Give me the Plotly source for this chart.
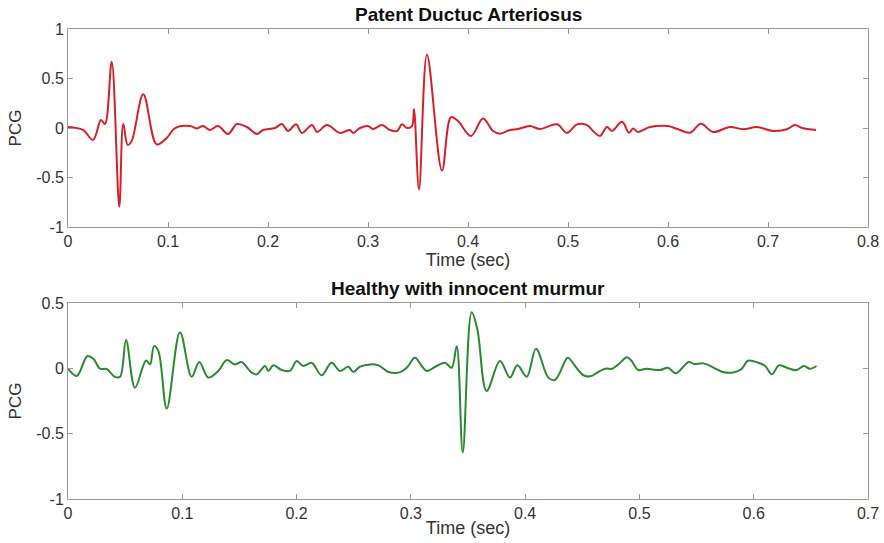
import plotly.graph_objects as go

# ---- Data ----
pda_t = [0.0, 0.015, 0.025, 0.033, 0.037, 0.0437, 0.0513, 0.0553, 0.0597, 0.0637, 0.0753, 0.0887,
         0.0987, 0.107, 0.122, 0.129, 0.135, 0.142, 0.150, 0.160, 0.169, 0.179, 0.189, 0.195, 0.207,
         0.214, 0.220, 0.228, 0.234, 0.244, 0.249, 0.259, 0.272, 0.282, 0.285, 0.292, 0.300, 0.305,
         0.314, 0.322, 0.329, 0.334, 0.339, 0.344, 0.346, 0.351, 0.359, 0.374, 0.383, 0.390, 0.403,
         0.415, 0.425, 0.432, 0.442, 0.450, 0.462, 0.472, 0.489, 0.499, 0.509, 0.519, 0.525, 0.532,
         0.539, 0.544, 0.554, 0.561, 0.565, 0.570, 0.582, 0.600, 0.610, 0.622, 0.633, 0.645, 0.662,
         0.675, 0.689, 0.705, 0.719, 0.727, 0.734, 0.748]
pda_v = [0.01, -0.02, -0.12, 0.08, 0.04, 0.67, -0.795, 0.04, -0.17, -0.13, 0.34, -0.165,
         -0.10, 0.0, 0.02, -0.004, 0.02, -0.02, 0.02, -0.06, 0.04, 0.01, -0.06, -0.02, 0.0,
         0.04, -0.03, 0.037, -0.05, 0.03, -0.04, 0.03, -0.05, -0.02, -0.05, 0.0, 0.02, -0.01,
         0.03, -0.02, -0.03, 0.037, 0.0, 0.02, 0.19, -0.62, 0.74, -0.43, 0.11, 0.07, -0.08,
         0.097, -0.03, -0.057, -0.02, -0.01, 0.02, -0.01, 0.037, -0.05, 0.037, 0.03, -0.03, -0.08,
         0.01, -0.03, 0.063, -0.047, -0.006, -0.04, 0.01, 0.02, -0.013, -0.047, 0.043, -0.04, 0.01,
         -0.013, 0.01, -0.03, -0.013, 0.03, 0.0, -0.02]

hm_t = [0.0, 0.0076, 0.017, 0.0222, 0.028, 0.0338, 0.0411, 0.0455, 0.0508, 0.0586, 0.0683, 0.0718,
        0.0753, 0.0791, 0.0864, 0.098, 0.1082, 0.1149, 0.1228, 0.1315, 0.1388, 0.1461, 0.1519,
        0.1607, 0.1651, 0.1724, 0.1753, 0.1797, 0.187, 0.1942, 0.2001, 0.2059, 0.2132, 0.2219,
        0.2306, 0.238, 0.2453, 0.2497, 0.2555, 0.2643, 0.2716, 0.2804, 0.2891, 0.2964, 0.3036,
        0.3095, 0.3139, 0.3226, 0.3299, 0.3357, 0.3401, 0.3454, 0.3532, 0.3582, 0.3663, 0.378,
        0.3867, 0.3932, 0.4014, 0.4095, 0.4203, 0.4261, 0.4363, 0.4378, 0.451, 0.458, 0.462,
        0.470, 0.476, 0.482, 0.489, 0.493, 0.499, 0.506, 0.518, 0.525, 0.532, 0.543, 0.548,
        0.556, 0.568, 0.573, 0.581, 0.589, 0.595, 0.604, 0.610, 0.616, 0.622, 0.629, 0.637,
        0.644, 0.649, 0.655]
hm_v = [0.0, -0.059, 0.094, 0.074, -0.003, -0.005, -0.065, -0.065, 0.216, -0.148, 0.06, 0.031,
        0.17, 0.132, -0.308, 0.277, -0.065, 0.049, -0.071, -0.02, 0.063, 0.03, 0.048,
        -0.033, -0.046, 0.018, -0.02, 0.023, -0.013, -0.02, 0.056, 0.018, 0.043, -0.053,
        0.043, -0.02, 0.013, -0.028, 0.013, 0.03, 0.023, -0.028, -0.033, 0.005, 0.081,
        0.018, -0.02, 0.018, 0.043, 0.005, 0.17, -0.644, 0.43, 0.298, -0.173, 0.056,
        -0.071, 0.023, -0.064, 0.15, -0.071, -0.089, 0.075, 0.08, -0.053, -0.059, -0.038,
        -0.003, -0.003, 0.033, 0.084, 0.058, -0.013, -0.003, -0.013, 0.005, -0.038, 0.048, 0.033,
        0.038, -0.008, -0.028, -0.033, -0.008, 0.058, 0.043, 0.018, -0.046, 0.023, 0.005, -0.015,
        0.018, -0.003, 0.018]

top_xticks = [0, 0.1, 0.2, 0.3, 0.4, 0.5, 0.6, 0.7, 0.8]
top_xlabels = ["0", "0.1", "0.2", "0.3", "0.4", "0.5", "0.6", "0.7", "0.8"]
top_yticks = [-1, -0.5, 0, 0.5, 1]
top_ylabels = ["-1", "-0.5", "0", "0.5", "1"]
bot_xticks = [0, 0.1, 0.2, 0.3, 0.4, 0.5, 0.6, 0.7]
bot_xlabels = ["0", "0.1", "0.2", "0.3", "0.4", "0.5", "0.6", "0.7"]
bot_yticks = [-1, -0.5, 0, 0.5]
bot_ylabels = ["-1", "-0.5", "0", "0.5"]

FONT = "Liberation Sans, Arial, Helvetica, sans-serif"

fig = go.Figure()
fig.add_trace(go.Scatter(x=pda_t, y=pda_v, mode="lines",
                         line=dict(color="#d3222a", width=2, shape="spline", smoothing=1.0),
                         xaxis="x", yaxis="y", showlegend=False))
fig.add_trace(go.Scatter(x=hm_t, y=hm_v, mode="lines",
                         line=dict(color="#2b8a30", width=2, shape="spline", smoothing=1.0),
                         xaxis="x2", yaxis="y2", showlegend=False))

axis_common = dict(showgrid=False, zeroline=False, showline=True, linecolor="#9a9a9a", linewidth=1,
                   mirror="ticks", ticks="inside", ticklen=5, tickcolor="#9a9a9a", automargin=False,
                   tickfont=dict(family=FONT, size=16, color="#333333"))

xtitle = dict(text="Time (sec)", font=dict(family=FONT, size=18, color="#333333"), standoff=0)
ytitle = dict(text="PCG", font=dict(family=FONT, size=17, color="#333333"), standoff=10)

fig.update_layout(
    width=884, height=543,
    margin=dict(l=68, r=16, t=29, b=44),
    paper_bgcolor="white", plot_bgcolor="white",
    xaxis=dict(domain=[0, 1], anchor="y", range=[0, 0.8], tickvals=top_xticks, ticktext=top_xlabels,
               title=xtitle, **axis_common),
    yaxis=dict(domain=[0.5787, 1], anchor="x", range=[-1, 1], tickvals=top_yticks, ticktext=top_ylabels,
               title=ytitle, **axis_common),
    xaxis2=dict(domain=[0, 1], anchor="y2", range=[0, 0.7], tickvals=bot_xticks, ticktext=bot_xlabels,
                title=xtitle, **axis_common),
    yaxis2=dict(domain=[0, 0.417], anchor="x2", range=[-1, 0.5], tickvals=bot_yticks, ticktext=bot_ylabels,
                title=ytitle, **axis_common),
    annotations=[
        dict(text="<b>Patent Ductuc Arteriosus</b>", x=0.5, y=1, xref="paper", yref="paper",
             xanchor="center", yanchor="bottom", yshift=2, showarrow=False,
             font=dict(family=FONT, size=19, color="#111111")),
        dict(text="<b>Healthy with innocent murmur</b>", x=0.5, y=0.417, xref="paper", yref="paper",
             xanchor="center", yanchor="bottom", yshift=2, showarrow=False,
             font=dict(family=FONT, size=19, color="#111111")),
    ],
)

fig.write_html("out.html", config={"displayModeBar": False},
               post_script="document.body.style.margin='0';")
